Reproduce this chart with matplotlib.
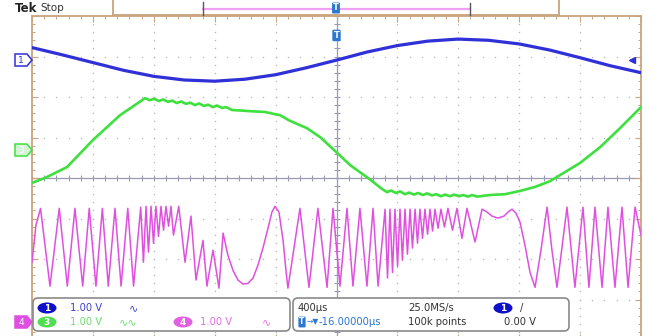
import matplotlib
matplotlib.use("Agg")
import numpy as np
import matplotlib.pyplot as plt
import matplotlib.transforms as mtransforms
from matplotlib.patches import FancyBboxPatch, Ellipse, Polygon
from matplotlib.lines import Line2D

# ---------------- scope settings ----------------
time_per_div = 400        # us / div
volts_per_div = 1.00      # V / div (all channels)
ch1_offset = 2.91         # divisions above centre
ch3_offset = 0.69
ch4_offset = -3.56
trigger_level = 0.00      # V on ch1

# ---------------- CH1 (blue) ----------------
ch1_t = [-2000, -1800, -1600, -1400, -1200, -1000, -800, -600, -400, -200, 0,
         200, 400, 600, 800, 1000, 1200, 1400, 1600, 1800, 2000]
ch1_v = [0.31, 0.13, -0.06, -0.25, -0.40, -0.49, -0.52, -0.47, -0.36, -0.19, 0.00,
         0.20, 0.36, 0.47, 0.52, 0.49, 0.40, 0.25, 0.06, -0.14, -0.31]

# ---------------- CH3 (green) ----------------
ch3_t = [-2000, -1915, -1770, -1599, -1422, -1258,
         -1225, -1199, -1166, -1140, -1107, -1080, -1048, -1021, -988, -962,
         -929, -903, -870, -844, -811, -785, -752, -726, -686,
         -568, -470, -371, -305, -194, -108, -10, 89, 207, 299,
         332, 358, 391, 417, 450, 476, 509, 535, 568, 594, 627, 654, 686, 713,
         745, 772, 805, 831, 864, 890, 923,
         1008, 1107, 1205, 1304, 1402, 1468, 1599, 1731, 1862, 2000]
ch3_v = [-0.81, -0.69, -0.42, 0.25, 0.86, 1.28,
         1.23, 1.27, 1.21, 1.25, 1.19, 1.22, 1.16, 1.20, 1.14, 1.17,
         1.11, 1.15, 1.09, 1.12, 1.06, 1.10, 1.04, 1.06, 0.99,
         0.96, 0.94, 0.86, 0.72, 0.54, 0.32, -0.02, -0.37, -0.69, -0.96,
         -1.04, -1.00, -1.06, -1.02, -1.09, -1.05, -1.10, -1.06, -1.11, -1.07, -1.12, -1.09, -1.14, -1.10,
         -1.14, -1.10, -1.14, -1.11, -1.15, -1.11, -1.15,
         -1.11, -1.09, -1.01, -0.91, -0.77, -0.62, -0.32, 0.07, 0.54, 1.06]

# ---------------- CH4 (magenta) ----------------
ch4_t = [-2000, -1974, -1944, -1882, -1821, -1768, -1718, -1667, -1624, -1580, -1538, -1499,
         -1455, -1415, -1371, -1333, -1286,
         -1268, -1251, -1235, -1218, -1202, -1186, -1169, -1153, -1136, -1120, -1103, -1087,
         -1071, -1036,
         -995, -956, -923, -877, -851, -811, -772, -745,
         -713, -680, -647, -614, -581, -548, -516, -483, -450, -424, -404, -378, -351, -332, -319,
         -240, -181, -122, -62, -23, 23, 69, 108, 154, 200, 240, 273,
         319, 335, 351, 368, 384, 401, 417, 433, 450, 466, 483, 499, 516, 532, 548, 565,
         581, 598, 614, 631, 647, 667, 686, 709, 732, 762, 791, 824, 857, 910, 956,
         988, 1021, 1061, 1100, 1133, 1153, 1179, 1205, 1238, 1271, 1304, 1343, 1383,
         1415, 1448, 1514, 1566, 1619, 1658, 1698, 1744, 1783, 1829, 1875, 1915, 1961, 2000]
ch4_v = [1.48, 2.40, 2.81, 0.89, 2.81, 0.89, 2.81, 0.89, 2.81, 0.89, 2.81, 0.89,
         2.81, 0.89, 2.81, 0.89, 2.84,
         1.48, 2.86, 1.73, 2.86, 1.95, 2.86, 2.12, 2.86, 2.27, 2.86, 2.37, 2.86,
         2.15, 2.86,
         1.48, 2.62, 1.04, 2.02, 0.89, 1.78, 0.84, 2.20,
         1.65, 1.28, 1.04, 0.94, 0.96, 1.09, 1.41, 1.83, 2.32, 2.72, 2.86, 2.72, 2.02, 1.28, 0.84,
         2.81, 0.86, 2.81, 0.86, 2.81, 0.89, 2.81, 0.89, 2.81, 0.89, 2.81, 0.89,
         2.79, 1.09, 2.79, 1.23, 2.79, 1.38, 2.79, 1.53, 2.79, 1.68, 2.79, 1.83, 2.79, 1.95, 2.79, 2.07,
         2.79, 2.17, 2.79, 2.25, 2.79, 2.32, 2.79, 2.35, 2.81, 2.27, 2.81, 2.07, 2.81, 1.98, 2.79,
         2.72, 2.62, 2.57, 2.62, 2.74, 2.79, 2.69, 2.47, 1.90, 1.23, 0.86, 1.78, 2.84,
         1.78, 0.86, 2.84, 0.86, 2.84, 0.86, 2.84, 0.86, 2.84, 0.86, 2.84, 0.86, 2.84, 2.15]

# readout texts
ch_scale_txt = "1.00 V"
horiz_txt = "400\u00b5s"
delay_txt = "-16.00000\u00b5s"
rate_txt = "25.0MS/s"
rec_txt = "100k points"
trig_txt = "0.00 V"

# colours
BLUE = "#3030d8"
GREEN = "#3ee03e"
MAG = "#e050e0"
TAN = "#c9a47e"
GRID = "#b4b4b4"
CENTER = "#9a9ab2"

W, H, DPI = 662, 336, 100
fig = plt.figure(figsize=(W / DPI, H / DPI), dpi=DPI, facecolor="white")
# pixel transform, origin top-left
pix = mtransforms.Affine2D().scale(1 / DPI, -1 / DPI).translate(0, H / DPI) + fig.dpi_scale_trans

ax = fig.add_axes([32 / W, 1 - 340 / H, 609 / W, 324 / H])
ax.set_xlim(-5 * time_per_div, 5 * time_per_div)
ax.set_ylim(-4, 4)
ax.set_facecolor("white")

# ---- graticule ----
xmaj = np.arange(-5, 6) * time_per_div
ymaj = np.arange(-4, 5)
xmin = np.arange(-25, 26) * time_per_div / 5
ymin = np.arange(-20, 21) / 5
for x in xmaj[1:-1]:
    if x != 0:
        ax.plot([x] * len(ymin), ymin, ls="none", marker="s", ms=0.9, color=GRID, mew=0)
for y in ymaj[1:-1]:
    if y != 0:
        ax.plot(xmin, [y] * len(xmin), ls="none", marker="s", ms=0.9, color=GRID, mew=0)
ax.axhline(0, color=CENTER, lw=0.9, zorder=1)
ax.axvline(0, color=CENTER, lw=0.9, zorder=1)
ax.plot(xmin, [0] * len(xmin), ls="none", marker="|", ms=4.5, mew=0.8, color=CENTER)
ax.plot([0] * len(ymin), ymin, ls="none", marker="_", ms=4.5, mew=0.8, color=CENTER)

ax.set_xticks(xmaj)
ax.set_xticks(xmin, minor=True)
ax.set_yticks(ymaj)
ax.set_yticks(ymin, minor=True)
ax.tick_params(which="both", direction="in", color=TAN, top=True, right=True,
               labelleft=False, labelbottom=False)
ax.tick_params(which="major", length=4, width=0.8)
ax.tick_params(which="minor", length=2.5, width=0.7)
for s in ax.spines.values():
    s.set_color(TAN)
    s.set_linewidth(1.3)

# ---- traces ----
ax.plot(ch4_t, [ch4_offset + v / volts_per_div for v in ch4_v], color=MAG, lw=1.1, zorder=3)
ax.plot(ch3_t, [ch3_offset + v / volts_per_div for v in ch3_v], color=GREEN, lw=1.9, zorder=4)
ax.plot(ch1_t, [ch1_offset + v / volts_per_div for v in ch1_v], color=BLUE, lw=2.3, zorder=5)

# trigger level arrow (right edge)
ax.plot([0.985], [ch1_offset + trigger_level / volts_per_div], marker="<", ms=4.5, color=BLUE,
        transform=ax.get_yaxis_transform(), clip_on=False, zorder=6)

# trigger position marker inside graticule
ax.text(0, 0.94, "T", transform=ax.get_xaxis_transform(), ha="center", va="center",
        fontsize=6, fontweight="bold", color="white",
        bbox=dict(boxstyle="round,pad=0.15", fc="#2a78d0", ec="none"), zorder=7)

# ---- top bar ----
fig.text(15, 8, "Tek", transform=pix, fontsize=8.5, fontweight="bold", va="center", color="#222")
fig.text(40, 8, "Stop", transform=pix, fontsize=7.5, va="center", color="#333")
for seg, c, lw in [(((113, 0), (113, 15)), TAN, 1.3), (((113, 15), (559, 15)), TAN, 1.3),
                   (((559, 0), (559, 15)), TAN, 1.3), (((203, 9), (470, 9)), "#f0a0f0", 1.6),
                   (((203, 2), (203, 15)), "#556", 1.0), (((470, 3), (470, 15)), "#556", 1.0)]:
    (x0, y0), (x1, y1) = seg
    fig.add_artist(Line2D([x0, x1], [y0, y1], transform=pix, color=c, lw=lw))
fig.text(336, 8, "T", transform=pix, ha="center", va="center", fontsize=6, fontweight="bold",
         color="white", bbox=dict(boxstyle="round,pad=0.12", fc="#2a78d0", ec="none"))

# ---- channel ground markers ----
def chan_marker(y, label, ec, fc, tc):
    pts = [(15, y - 6), (27, y - 6), (32, y), (27, y + 6), (15, y + 6)]
    fig.add_artist(Polygon(pts, closed=True, transform=pix, ec=ec, fc=fc, lw=1.1))
    fig.text(21, y + 0.5, label, transform=pix, ha="center", va="center", fontsize=6.5, color=tc)

chan_marker(60, "1", BLUE, "white", BLUE)
chan_marker(150, "3", GREEN, "#d6f5d6", "white")
chan_marker(322, "4", MAG, MAG, "white")

# ---- readout boxes ----
for x0, x1 in [(33, 290), (293, 569)]:
    fig.add_artist(FancyBboxPatch((x0, 298), x1 - x0, 33, transform=pix,
                                  boxstyle="round,pad=0,rounding_size=5",
                                  fc="white", ec="#8a8a8a", lw=1.2, zorder=5))

def oval(x, y, label, c):
    fig.add_artist(Ellipse((x, y), 19, 11, transform=pix, fc=c, ec="none", zorder=6))
    t = fig.text(x, y + 0.5, label, transform=pix, ha="center", va="center",
                 fontsize=6.5, color="white", fontweight="bold")
    t.set_zorder(7)

def rtext(x, y, s, c, size=7.2):
    t = fig.text(x, y, s, transform=pix, va="center", fontsize=size, color=c)
    t.set_zorder(7)

oval(47, 308, "1", "#1010c8")
rtext(70, 308, ch_scale_txt, "#4040d0")
rtext(129, 308, "\u223f", "#4040d0", 8)
oval(47, 322, "3", "#50dd50")
rtext(70, 322, ch_scale_txt, "#70dd70")
rtext(119, 322, "\u223f\u223f", "#70dd70", 8)
oval(183, 322, "4", "#e060e0")
rtext(200, 322, ch_scale_txt, "#e070e0")
rtext(262, 322, "\u223f", "#e070e0", 8)

rtext(298, 308, horiz_txt, "#333")
t = fig.text(302, 322, "T", transform=pix, ha="center", va="center", fontsize=5.5, fontweight="bold",
             color="white", bbox=dict(boxstyle="round,pad=0.12", fc="#2a78d0", ec="none"))
t.set_zorder(7)
rtext(307, 322, "\u2192\u25bc", "#2a78d0", 5.5)
rtext(319, 322, delay_txt, "#2a78d0")
rtext(408, 308, rate_txt, "#333")
rtext(408, 322, rec_txt, "#333")
oval(503, 308, "1", "#1010c8")
rtext(520, 308, "/", "#333")
rtext(504, 322, trig_txt, "#333")

fig.savefig("out.png", dpi=DPI, facecolor="white")
